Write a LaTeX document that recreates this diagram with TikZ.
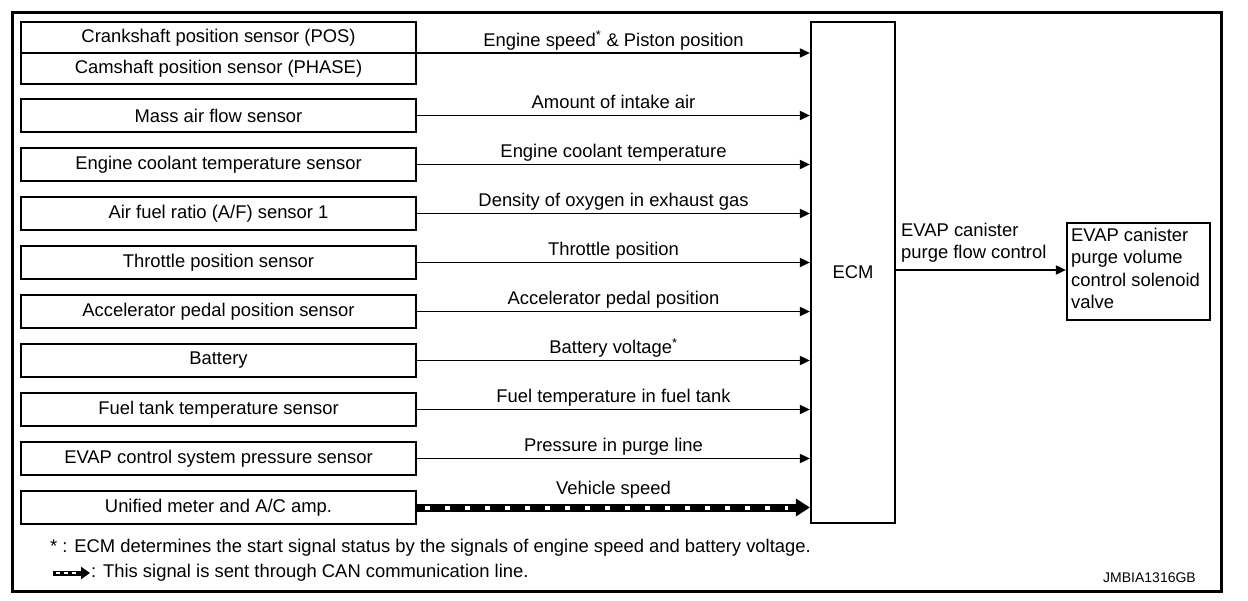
\documentclass[tikz,border=0pt]{standalone}
\usepackage{fontspec}
\setmainfont{Liberation Sans}
\usetikzlibrary{arrows.meta}
\begin{document}
\begin{tikzpicture}[x=1pt,y=-1pt,
  every node/.style={font=\fontsize{18.4}{22.5}\selectfont, inner sep=0pt},
  sensor/.style={draw, line width=2.2pt, minimum width=395pt, minimum height=33pt},
  sig/.style={line width=1.8pt, -{Triangle[length=10pt,width=9pt]}}
]
\useasboundingbox (0,0) rectangle (1248,600);
\draw[line width=3pt] (12,12) rectangle (1221,591);

% ECM
\node[draw, line width=2.2pt, minimum width=84pt, minimum height=501pt] (ecm) at (853,272.5) {ECM};

% top double box
\node[sensor, minimum height=62pt] (pos) at (218.5,53) {};
\draw[line width=2.2pt] (pos.west) -- (pos.east);
\node (crank) at (218.5,38) {Crankshaft position sensor (POS)};
\node (cam) at (218.5,69) {Camshaft position sensor (PHASE)};
\draw[sig] (pos.east) -- (pos.east -| ecm.west) node[midway, above=7pt, anchor=base] {Engine speed\textsuperscript{*} \& Piston position};

% other sensors
\foreach \n/\t/\l [count=\i from 0] in {
  maf/Mass air flow sensor/Amount of intake air,
  ect/Engine coolant temperature sensor/Engine coolant temperature,
  af/{Air fuel ratio (A/F) sensor 1}/Density of oxygen in exhaust gas,
  tps/Throttle position sensor/Throttle position,
  apps/Accelerator pedal position sensor/Accelerator pedal position,
  bat/Battery/Battery voltage\textsuperscript{*},
  ftt/Fuel tank temperature sensor/Fuel temperature in fuel tank,
  evp/EVAP control system pressure sensor/Pressure in purge line}
{
  \node[sensor] (\n) at (218.5,{115.5+49*\i}) {\t};
  \draw[sig] (\n.east) -- (\n.east -| ecm.west) node[midway, above=7pt, anchor=base] {\l};
}

% CAN line
\node[sensor] (meter) at (218.5,507.5) {Unified meter and A/C amp.};
\coordinate (canend) at (meter.east -| ecm.west);
\draw[line width=8pt, -{Triangle[length=14pt,width=17pt]}] (meter.east) -- (canend)
  node[midway, above=13pt, anchor=base] {Vehicle speed};
\draw[white, line width=4pt, dash pattern=on 5pt off 15pt, dash phase=-6pt]
  ([xshift=2pt]meter.east) -- ([xshift=-22pt]canend);

% output
\node[draw, line width=2.2pt, minimum width=143pt, minimum height=97pt] (valve) at (1138.5,271.5) {};
\node[anchor=north west, align=left] (valvetext) at ([xshift=5pt,yshift=-6pt]valve.north west) {EVAP canister\\purge volume\\control solenoid\\valve};
\draw[sig] (ecm.east |- 0,270) coordinate (ecmout) -- (ecmout -| valve.west);
\node[anchor=south west, align=left] (outlbl) at (901,263) {EVAP canister\\purge flow control};

% footnotes
\node[anchor=west] (fn1) at (50,548) {* : ECM determines the start signal status by the signals of engine speed and battery voltage.};
\coordinate (lg1) at (53,573);
\coordinate (lg2) at (90,573);
\draw[line width=5pt, -{Triangle[length=9pt,width=12pt]}] (lg1) -- (lg2);
\draw[white, line width=2.5pt, dash pattern=on 4pt off 4pt, dash phase=-2pt] ([xshift=1pt]lg1) -- ([xshift=-14pt]lg2);
\node[anchor=west] (fn2) at (91,573) {: This signal is sent through CAN communication line.};
\node[anchor=east, font=\fontsize{14}{16}\selectfont] (code) at (1196,578) {JMBIA1316GB};
\end{tikzpicture}
\end{document}
